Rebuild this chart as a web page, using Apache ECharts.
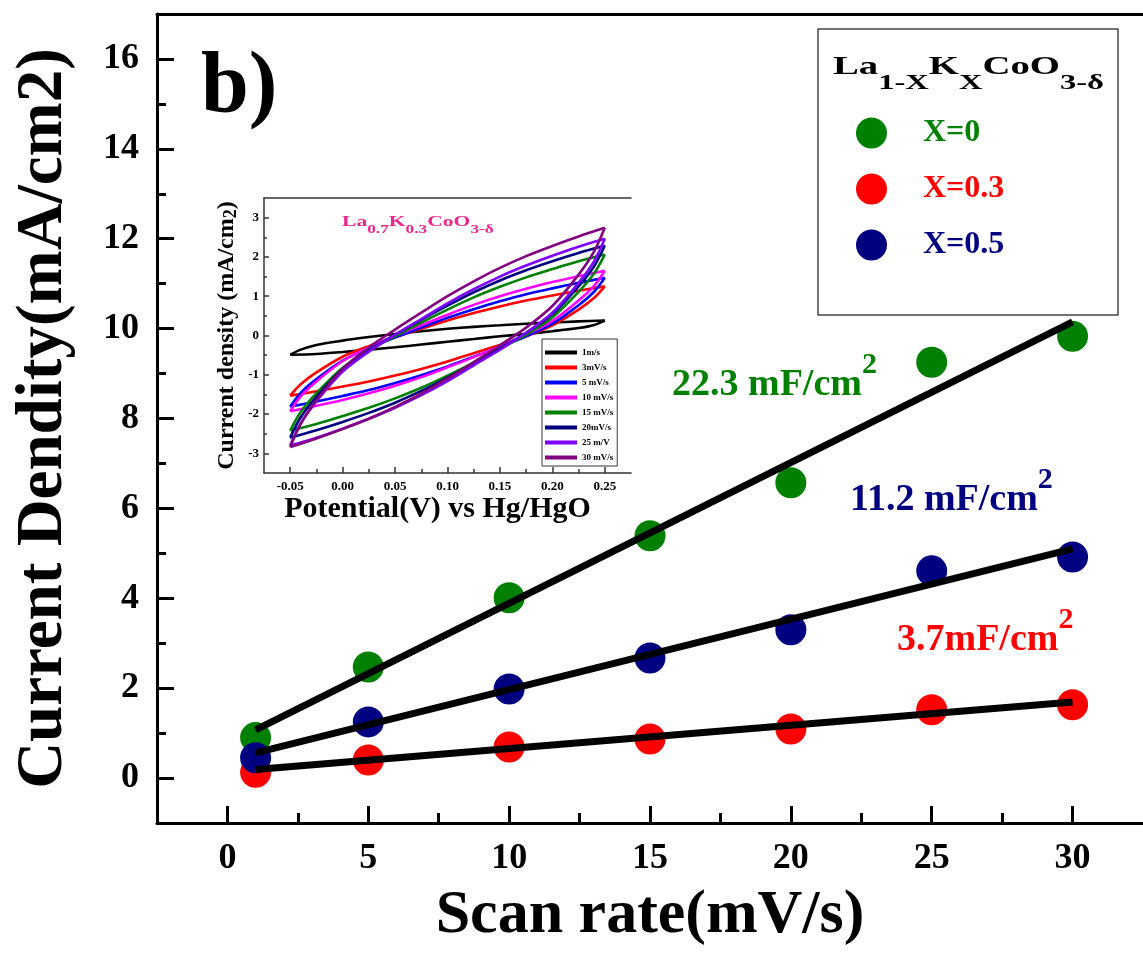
<!DOCTYPE html>
<html><head><meta charset="utf-8">
<script src="https://cdn.jsdelivr.net/npm/echarts@6/dist/echarts.min.js"></script>
<style>html,body{margin:0;padding:0;background:#fff}#c{width:1143px;height:953px}</style>
</head><body><div id="c"></div>
<script>
// ---------- main chart data ----------
const scanRates = [1, 5, 10, 15, 20, 25, 30];
const jX0  = [0.90, 2.47, 4.01, 5.39, 6.57, 9.25, 9.83];
const jX03 = [0.13, 0.40, 0.69, 0.87, 1.09, 1.52, 1.63];
const jX05 = [0.45, 1.25, 1.98, 2.67, 3.30, 4.61, 4.92];
const fitRates = [1, 30];
const fitX0  = [1.07, 10.15];
const fitX03 = [0.19, 1.69];
const fitX05 = [0.56, 5.10];
const xTicks = [0, 5, 10, 15, 20, 25, 30];
const xMinorTicks = [2.5, 7.5, 12.5, 17.5, 22.5, 27.5];
const yTicks = [0, 2, 4, 6, 8, 10, 12, 14, 16];
const yMinorTicks = [1, 3, 5, 7, 9, 11, 13, 15];
const seriesNames = ['X=0', 'X=0.3', 'X=0.5'];
const slopeTexts = ['22.3 mF/cm', '11.2 mF/cm', '3.7mF/cm'];

// ---------- inset (CV) data ----------
const cvNames = ['1m/s', '3mV/s', '5 mV/s', '10 mV/s', '15 mV/s', '20mV/s', '25 m/V', '30 mV/s'];
const cvUpperX = [-0.05, -0.04, -0.025, 0, 0.025, 0.05, 0.075, 0.1, 0.125, 0.15, 0.175, 0.2, 0.225, 0.25];
const cvUpperY = [
  [-0.49, -0.36, -0.24, -0.13, -0.04, 0.04, 0.11, 0.17, 0.22, 0.26, 0.30, 0.33, 0.36, 0.38],
  [-1.53, -1.24, -0.94, -0.54, -0.27, -0.04, 0.17, 0.38, 0.57, 0.74, 0.89, 1.02, 1.14, 1.25],
  [-1.81, -1.46, -1.11, -0.64, -0.32, -0.05, 0.20, 0.45, 0.67, 0.87, 1.05, 1.20, 1.34, 1.47],
  [-1.93, -1.55, -1.17, -0.65, -0.30, -0.01, 0.26, 0.53, 0.78, 1.00, 1.19, 1.36, 1.51, 1.65],
  [-2.42, -1.95, -1.47, -0.82, -0.38, -0.02, 0.33, 0.66, 0.97, 1.24, 1.48, 1.69, 1.89, 2.06],
  [-2.60, -2.08, -1.56, -0.85, -0.38, 0.02, 0.40, 0.76, 1.10, 1.40, 1.66, 1.89, 2.10, 2.29],
  [-2.80, -2.24, -1.68, -0.92, -0.41, 0.02, 0.42, 0.82, 1.18, 1.50, 1.78, 2.03, 2.26, 2.46],
  [-2.84, -2.25, -1.65, -0.85, -0.30, 0.15, 0.58, 1.00, 1.38, 1.72, 2.02, 2.28, 2.52, 2.74]
];
const cvLowerX = [-0.05, -0.025, 0, 0.025, 0.05, 0.075, 0.1, 0.125, 0.15, 0.175, 0.2, 0.225, 0.24, 0.25];
const cvLowerY = [
  [-0.49, -0.47, -0.42, -0.36, -0.30, -0.23, -0.16, -0.09, -0.02, 0.04, 0.11, 0.19, 0.27, 0.38],
  [-1.53, -1.42, -1.30, -1.17, -1.02, -0.85, -0.66, -0.45, -0.24, -0.02, 0.26, 0.66, 0.96, 1.25],
  [-1.81, -1.68, -1.54, -1.39, -1.21, -1.01, -0.79, -0.54, -0.29, -0.02, 0.30, 0.77, 1.12, 1.47],
  [-1.93, -1.79, -1.64, -1.47, -1.28, -1.06, -0.81, -0.55, -0.27, 0.02, 0.37, 0.89, 1.27, 1.65],
  [-2.42, -2.25, -2.05, -1.84, -1.60, -1.33, -1.02, -0.69, -0.34, 0.02, 0.46, 1.11, 1.59, 2.06],
  [-2.60, -2.41, -2.20, -1.97, -1.71, -1.41, -1.07, -0.71, -0.33, 0.07, 0.54, 1.25, 1.77, 2.29],
  [-2.80, -2.60, -2.37, -2.12, -1.84, -1.52, -1.16, -0.76, -0.36, 0.07, 0.58, 1.34, 1.90, 2.46],
  [-2.84, -2.62, -2.38, -2.12, -1.82, -1.48, -1.10, -0.68, -0.25, 0.20, 0.75, 1.55, 2.15, 2.74]
];
const insetXTicks = [-0.05, 0, 0.05, 0.1, 0.15, 0.2, 0.25];
const insetXMinor = [-0.025, 0.025, 0.075, 0.125, 0.175, 0.225];
const insetYTicks = [-3, -2, -1, 0, 1, 2, 3];
const insetYMinor = [-2.5, -1.5, -0.5, 0.5, 1.5, 2.5];

// ---------- styles ----------
const FONT = '"Liberation Serif", "Times New Roman", serif';
const seriesColors = ['#008000', '#ff0000', '#000080'];
const cvColors = ['#000000', '#ff0000', '#0000ff', '#ff00ff', '#008000', '#000080', '#7f00ff', '#800080'];

const pairs = (xs, ys) => xs.map((x, i) => [x, ys[i]]);

const series = [];
[jX0, jX03, jX05].forEach((ys, k) => {
  series.push({
    type: 'scatter', name: seriesNames[k], xAxisIndex: 0, yAxisIndex: 0,
    data: pairs(scanRates, ys), symbol: 'circle', symbolSize: 31,
    itemStyle: { color: seriesColors[k], opacity: 1 }, z: 2
  });
});
[fitX0, fitX03, fitX05].forEach((ys) => {
  series.push({
    type: 'line', xAxisIndex: 0, yAxisIndex: 0, data: pairs(fitRates, ys),
    symbol: 'none', lineStyle: { color: '#000', width: 7, cap: 'butt' }, z: 3, silent: true
  });
});
cvNames.forEach((nm, k) => {
  series.push({
    type: 'line', name: nm, xAxisIndex: 3, yAxisIndex: 2, data: pairs(cvUpperX, cvUpperY[k]),
    symbol: 'none', smooth: 0.3, color: cvColors[k],
    lineStyle: { color: cvColors[k], width: 2.6 }, z: 4
  });
  series.push({
    type: 'line', name: nm, xAxisIndex: 3, yAxisIndex: 2, data: pairs(cvLowerX, cvLowerY[k]),
    symbol: 'none', smooth: 0.3, color: cvColors[k],
    lineStyle: { color: cvColors[k], width: 2.6 }, z: 4
  });
});

const blackLine = { show: true, onZero: false, lineStyle: { color: '#000', width: 3 } };
const insetLine = { show: true, onZero: false, lineStyle: { color: '#333', width: 1.5 } };
const noLine = { show: false, onZero: false };

const option = {
  animation: false,
  backgroundColor: '#fff',
  grid: [
    { left: 157, top: 14, right: 0, bottom: 130 },
    { left: 264, top: 198, width: 367, height: 275 }
  ],
  xAxis: [
    { type: 'value', gridIndex: 0, position: 'bottom', min: -2.5, max: 32.5, axisLine: blackLine, splitLine: { show: false },
      axisTick: { inside: true, length: 17, lineStyle: { width: 3, color: '#000' }, customValues: xTicks },
      axisLabel: { customValues: xTicks, margin: 18, color: '#000', fontSize: 36, fontWeight: 'bold', fontFamily: FONT },
      name: 'Scan rate(mV/s)', nameLocation: 'middle', nameGap: 62,
      nameTextStyle: { fontSize: 62, fontWeight: 'bold', fontFamily: FONT, color: '#000' } },
    { type: 'value', gridIndex: 0, position: 'bottom', min: -2.5, max: 32.5, axisLine: noLine, splitLine: { show: false },
      axisTick: { inside: true, length: 10, lineStyle: { width: 3, color: '#000' }, customValues: xMinorTicks },
      axisLabel: { show: false } },
    { type: 'value', gridIndex: 0, position: 'top', min: -2.5, max: 32.5, axisLine: blackLine,
      splitLine: { show: false }, axisTick: { show: false }, axisLabel: { show: false } },
    { type: 'value', gridIndex: 1, position: 'bottom', min: -0.075, max: 0.275, axisLine: insetLine, splitLine: { show: false },
      axisTick: { inside: true, length: 6, lineStyle: { width: 1.5, color: '#333' }, customValues: insetXTicks },
      axisLabel: { customValues: insetXTicks, margin: 7, color: '#000', fontSize: 13, fontWeight: 'bold', fontFamily: FONT,
        formatter: v => v.toFixed(2) },
      name: 'Potential(V) vs Hg/HgO', nameLocation: 'middle', nameGap: 16,
      nameTextStyle: { fontSize: 30, fontWeight: 'bold', fontFamily: FONT, color: '#000', padding: [0, 20, 0, 0] } },
    { type: 'value', gridIndex: 1, position: 'bottom', min: -0.075, max: 0.275, axisLine: noLine, splitLine: { show: false },
      axisTick: { inside: true, length: 4, lineStyle: { width: 1.5, color: '#333' }, customValues: insetXMinor },
      axisLabel: { show: false } },
    { type: 'value', gridIndex: 1, position: 'top', min: -0.075, max: 0.275, axisLine: insetLine,
      splitLine: { show: false }, axisTick: { show: false }, axisLabel: { show: false } }
  ],
  yAxis: [
    { type: 'value', gridIndex: 0, position: 'left', min: -1, max: 17, axisLine: blackLine, splitLine: { show: false },
      axisTick: { inside: true, length: 17, lineStyle: { width: 3, color: '#000' }, customValues: yTicks },
      axisLabel: { customValues: yTicks, margin: 18, color: '#000', fontSize: 36, fontWeight: 'bold', fontFamily: FONT },
      name: 'Current Dendity(mA/cm2)', nameLocation: 'middle', nameGap: 80,
      nameTextStyle: { fontSize: 65, fontWeight: 'bold', fontFamily: FONT, color: '#000' } },
    { type: 'value', gridIndex: 0, position: 'left', min: -1, max: 17, axisLine: noLine, splitLine: { show: false },
      axisTick: { inside: true, length: 9, lineStyle: { width: 3, color: '#000' }, customValues: yMinorTicks },
      axisLabel: { show: false } },
    { type: 'value', gridIndex: 1, position: 'left', min: -3.5, max: 3.5, axisLine: insetLine, splitLine: { show: false },
      axisTick: { inside: true, length: 5, lineStyle: { width: 1.5, color: '#333' }, customValues: insetYTicks },
      axisLabel: { customValues: insetYTicks, margin: 5, color: '#000', fontSize: 13, fontWeight: 'bold', fontFamily: FONT },
      name: 'Current density (mA/cm{sub|2})', nameLocation: 'middle', nameGap: 24,
      nameTextStyle: { fontSize: 24, fontWeight: 'bold', fontFamily: FONT, color: '#000',
        rich: { sub: { fontSize: 18, fontWeight: 'bold', fontFamily: FONT, color: '#000', padding: [8, 0, 0, 0], verticalAlign: 'top' } } } },
    { type: 'value', gridIndex: 1, position: 'left', min: -3.5, max: 3.5, axisLine: noLine, splitLine: { show: false },
      axisTick: { inside: true, length: 3, lineStyle: { width: 1.5, color: '#333' }, customValues: insetYMinor },
      axisLabel: { show: false } }
  ],
  legend: [
    { orient: 'vertical', left: 856, top: 117, padding: 0, itemGap: 24, itemWidth: 31, itemHeight: 31,
      icon: 'circle', selectedMode: false,
      data: seriesNames.map((n, k) => ({ name: n, textStyle: { color: seriesColors[k] } })),
      textStyle: { fontSize: 32, fontWeight: 'bold', fontFamily: FONT, padding: [0, 0, 0, 31] } },
    { orient: 'vertical', left: 542, top: 339, padding: [8, 4, 3, 3], itemGap: 4, itemWidth: 32, itemHeight: 4,
      icon: 'rect', selectedMode: false, borderColor: '#333', borderWidth: 1, backgroundColor: '#fff',
      data: cvNames,
      textStyle: { fontSize: 9, lineHeight: 11, fontWeight: 'bold', fontFamily: FONT, color: '#000' } }
  ],
  graphic: [
    { type: 'text', x: 201, y: 46, style: { text: 'b)', font: 'bold 86px ' + FONT, fill: '#000', verticalAlign: 'top' } },
    { type: 'rect', shape: { x: 818, y: 29, width: 300, height: 286 }, style: { fill: 'none', stroke: '#444', lineWidth: 1.5 } },
    { type: 'text', x: 833, y: 55, scaleX: 1.55, style: {
        text: '{m|La}{s|1-X}{m|K}{s|X}{m|CoO}{s|3-δ}', fill: '#000', verticalAlign: 'top', align: 'left',
        rich: { m: { font: 'bold 25px ' + FONT, verticalAlign: 'top' },
                s: { font: 'bold 21px ' + FONT, verticalAlign: 'top', padding: [18, 0, 0, 0] } } } },
    { type: 'text', x: 342, y: 215, scaleX: 1.44, style: {
        text: '{m|La}{s|0.7}{m|K}{s|0.3}{m|CoO}{s|3-δ}', fill: '#e8288c', verticalAlign: 'top', align: 'left',
        rich: { m: { font: 'bold 15px ' + FONT, verticalAlign: 'top' },
                s: { font: 'bold 12px ' + FONT, verticalAlign: 'top', padding: [9, 0, 0, 0] } } } },
    { type: 'text', x: 672, y: 350, style: {
        text: '{m|' + slopeTexts[0] + '}{p|2}', fill: seriesColors[0], verticalAlign: 'top', align: 'left',
        rich: { m: { font: 'bold 38px ' + FONT, verticalAlign: 'top', padding: [16, 0, 0, 0] },
                p: { font: 'bold 30px ' + FONT, verticalAlign: 'top' } } } },
    { type: 'text', x: 850, y: 465, style: {
        text: '{m|' + slopeTexts[1] + '}{p|2}', fill: seriesColors[2], verticalAlign: 'top', align: 'left',
        rich: { m: { font: 'bold 38px ' + FONT, verticalAlign: 'top', padding: [16, 0, 0, 0] },
                p: { font: 'bold 30px ' + FONT, verticalAlign: 'top' } } } },
    { type: 'text', x: 897, y: 605, style: {
        text: '{m|' + slopeTexts[2] + '}{p|2}', fill: seriesColors[1], verticalAlign: 'top', align: 'left',
        rich: { m: { font: 'bold 38px ' + FONT, verticalAlign: 'top', padding: [16, 0, 0, 0] },
                p: { font: 'bold 30px ' + FONT, verticalAlign: 'top' } } } }
  ],
  series: series
};

const chart = echarts.init(document.getElementById('c'), null, { renderer: 'canvas' });
chart.setOption(option);
</script>
</body></html>
